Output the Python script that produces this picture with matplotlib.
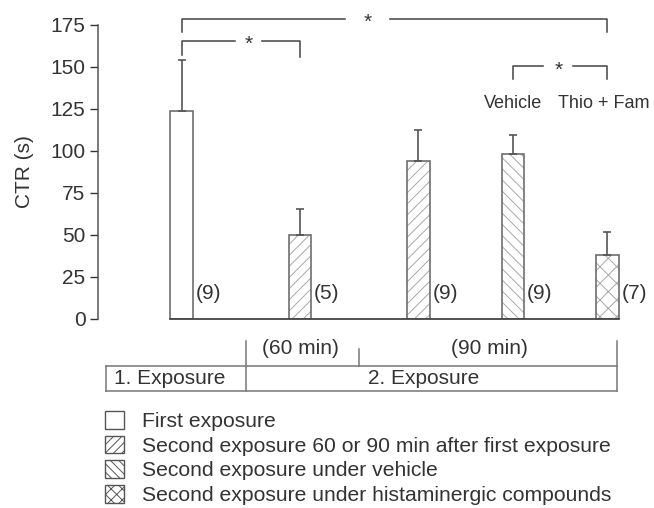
import matplotlib.pyplot as plt
import matplotlib.transforms as mtransforms
from matplotlib.patches import Patch
import numpy as np

plt.rcParams['font.family'] = ['Liberation Sans', 'DejaVu Sans']
plt.rcParams['hatch.linewidth'] = 0.7

# Dados (CTR em segundos)
groups = ['First', '60 min', '90 min', 'Vehicle', 'Thio + Fam']
positions = [0, 1.25, 2.5, 3.5, 4.5]
ctr_mean = [124, 50, 94, 98, 38]
ctr_err = [30, 15.5, 18.5, 11.5, 13.5]
n_animals = ['(9)', '(5)', '(9)', '(9)', '(7)']
hatches = ['', '///', '///', '\\\\\\', 'xx']

legend_labels = ['First exposure',
                 'Second exposure 60 or 90 min after first exposure',
                 'Second exposure under vehicle',
                 'Second exposure under histaminergic compounds']
legend_hatches = ['', '////', '\\\\\\\\', 'xxx']

fs = 15
dark = '#333333'
edge = '#6e6e6e'
hatch_col = '#a8a8a8'
width = 0.24

fig = plt.figure(figsize=(6.54, 5.08), dpi=100)
ax = fig.add_axes([98 / 654, 189 / 508, 532 / 654, 294 / 508])

# barras: primeiro a hachura clara, depois o contorno
ax.bar(positions, ctr_mean, width, color='white', edgecolor=hatch_col,
       hatch=hatches, linewidth=0)
ax.bar(positions, ctr_mean, width, color='none', edgecolor=edge, linewidth=1.2)
ax.errorbar(positions, ctr_mean, yerr=[np.zeros(len(ctr_err)), ctr_err],
            fmt='none', ecolor='#555555', elinewidth=1.2, capsize=3, capthick=1.2)

for p, n in zip(positions, n_animals):
    ax.text(p + width / 2 + 0.03, 15, n, fontsize=fs, color=dark,
            ha='left', va='center')

ax.set_xlim(-0.886, 4.738)
ax.set_ylim(0, 175)
ax.set_yticks(np.arange(0, 176, 25))
ax.set_xticks([])
ax.set_ylabel('CTR (s)', fontsize=fs, color=dark, labelpad=12)
ax.tick_params(axis='y', labelsize=fs, colors=dark, length=6, width=1, pad=3)
for s in ['top', 'right']:
    ax.spines[s].set_visible(False)
ax.spines['left'].set_color('#555555')
ax.spines['bottom'].set_color('#444444')
ax.spines['left'].set_linewidth(1.1)
ax.spines['bottom'].set_linewidth(1.3)
ax.spines['bottom'].set_bounds(positions[0] - width / 2, positions[-1] + width / 2)


# colchetes de significância
def bracket(x1, x2, y, yl1, yl2, g1, g2, ys):
    kw = dict(color='#444444', lw=1.1, clip_on=False)
    ax.plot([x1, x1, g1], [yl1, y, y], **kw)
    ax.plot([g2, x2, x2], [y, y, yl2], **kw)
    ax.text((g1 + g2) / 2, ys, '*', fontsize=fs, ha='center', va='center', color=dark)


bracket(0, 4.5, 178.8, 170.8, 170.8, 1.73, 2.2, 176.5)
bracket(0, 1.25, 165.5, 157, 156, 0.56, 0.85, 163.2)
bracket(3.5, 4.5, 150.6, 143, 143, 3.82, 4.14, 148.3)
ax.text(3.5, 128, 'Vehicle', fontsize=13, ha='center', va='center', color=dark)
ax.text(4.46, 128, 'Thio + Fam', fontsize=13, ha='center', va='center', color=dark)

# tabela de exposições abaixo do eixo
tr = mtransforms.blended_transform_factory(ax.transData, fig.transFigure)
xl, xs, xm, xr = -0.804, 0.679, 1.876, 4.604
yt, yb, yv, ym = 0.2801, 0.2309, 0.3297, 0.313
tkw = dict(color='#777777', lw=1.1, transform=tr, clip_on=False)
ax.plot([xl, xr], [yt, yt], **tkw)
ax.plot([xl, xr], [yb, yb], **tkw)
ax.plot([xl, xl], [yb, yt], **tkw)
ax.plot([xs, xs], [yb, yv], **tkw)
ax.plot([xr, xr], [yb, yv], **tkw)
ax.plot([xm, xm], [yt, ym], **tkw)
ax.text(1.257, 0.313, '(60 min)', fontsize=fs, ha='center', va='center', color=dark, transform=tr)
ax.text(3.247, 0.313, '(90 min)', fontsize=fs, ha='center', va='center', color=dark, transform=tr)
ax.text(-0.13, 0.2559, '1. Exposure', fontsize=fs, ha='center', va='center', color=dark, transform=tr)
ax.text(2.56, 0.2559, '2. Exposure', fontsize=fs, ha='center', va='center', color=dark, transform=tr)

# legenda
handles = [Patch(facecolor='white', edgecolor='#555555', hatch=h, linewidth=1)
           for h in legend_hatches]
fig.legend(handles, legend_labels, loc='upper left', bbox_to_anchor=(105 / 654, 1 - 411 / 508),
           frameon=False, fontsize=15.2, borderpad=0, borderaxespad=0,
           handlelength=0.9, handleheight=0.9, handletextpad=0.85, labelspacing=0.22,
           labelcolor=dark)

fig.savefig('out.png', dpi=100)
plt.close(fig)
